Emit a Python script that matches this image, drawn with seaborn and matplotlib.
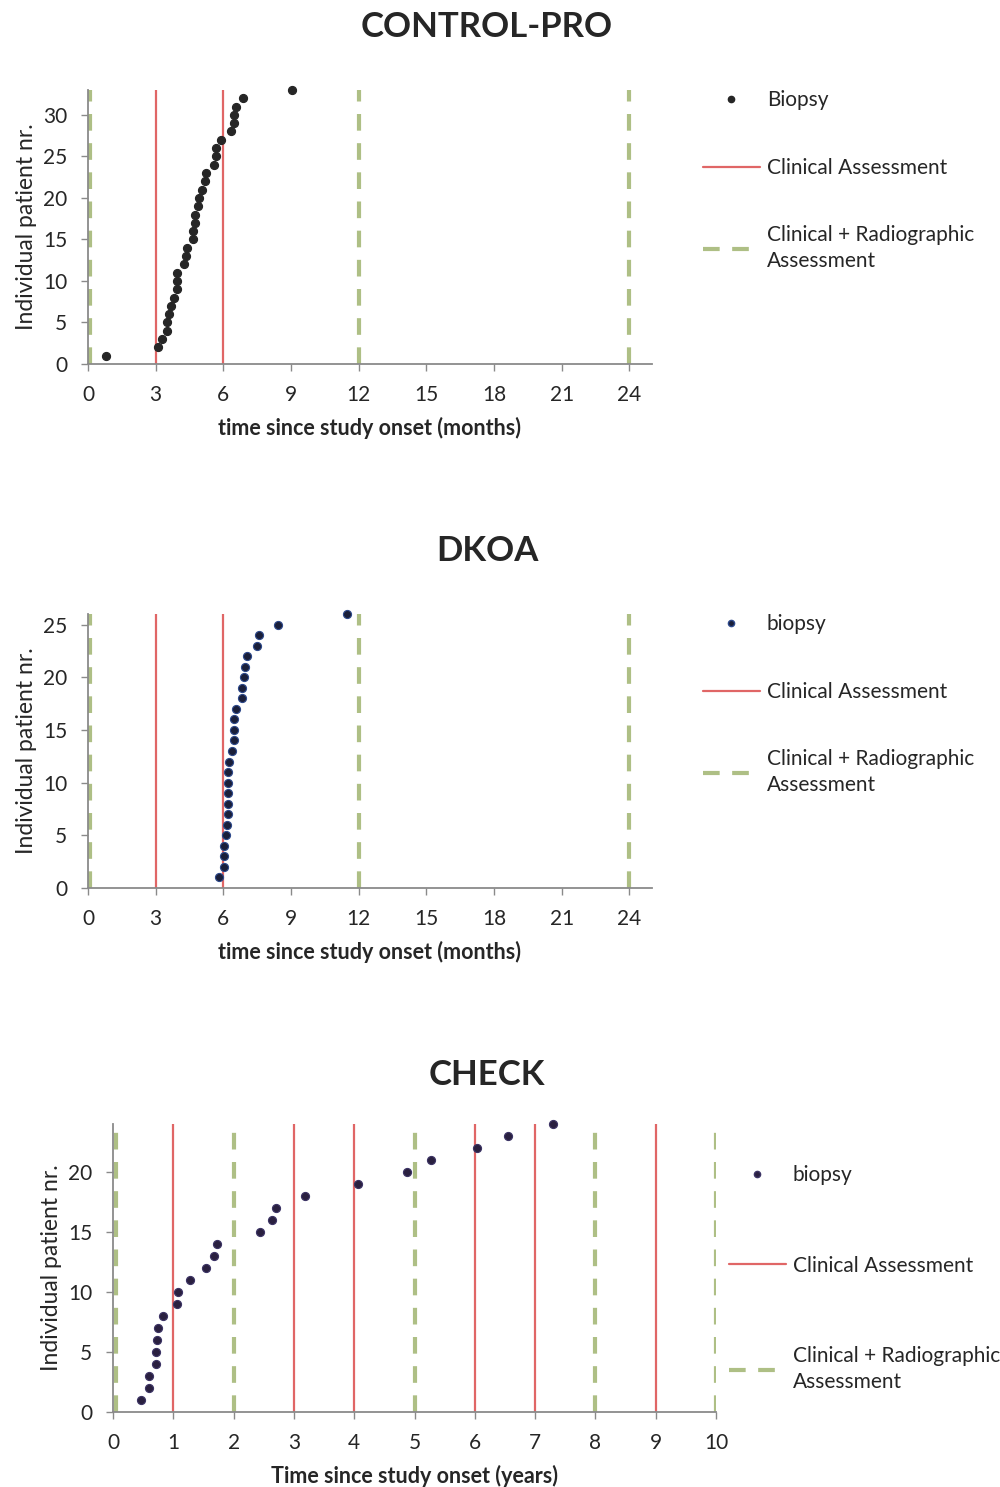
import matplotlib
matplotlib.use("Agg")
import matplotlib.pyplot as plt
import seaborn as sns
import pandas as pd
from matplotlib.lines import Line2D

# ---------------- data ----------------
cp_months = [0.78, 3.10, 3.26, 3.51, 3.51, 3.60, 3.66, 3.79, 3.95, 3.95, 3.95,
             4.25, 4.35, 4.41, 4.66, 4.66, 4.73, 4.73, 4.87, 4.94, 5.04, 5.19,
             5.24, 5.58, 5.66, 5.69, 5.91, 6.36, 6.49, 6.49, 6.55, 6.87, 9.03]
cp_patient = list(range(1, len(cp_months) + 1))

dk_months = [5.80, 6.03, 6.03, 6.04, 6.13, 6.17, 6.19, 6.19, 6.19, 6.21, 6.21,
             6.24, 6.40, 6.45, 6.45, 6.45, 6.58, 6.81, 6.81, 6.92, 6.95, 7.05,
             7.51, 7.57, 8.42, 11.47]
dk_patient = list(range(1, len(dk_months) + 1))

ch_years = [0.47, 0.59, 0.60, 0.71, 0.71, 0.73, 0.74, 0.83, 1.06, 1.08, 1.28,
            1.55, 1.67, 1.72, 2.44, 2.63, 2.71, 3.18, 4.07, 4.87, 5.28, 6.04,
            6.55, 7.29]
ch_patient = list(range(1, len(ch_years) + 1))

months_clinical = [3, 6]
months_radiographic = [0.1, 12, 24]
years_clinical = [1, 3, 4, 6, 7, 9]
years_radiographic = [0.05, 2, 5, 8, 10]

months_ticks = [0, 3, 6, 9, 12, 15, 18, 21, 24]
years_ticks = list(range(0, 11))

titles = ["CONTROL-PRO", "DKOA", "CHECK"]
biopsy_labels = ["Biopsy", "biopsy", "biopsy"]
xlabels = ["time since study onset (months)", "time since study onset (months)",
           "Time since study onset (years)"]
ylabel = "Individual patient nr."
clin_label = "Clinical Assessment"
rad_label = "Clinical + Radiographic\nAssessment"

# ---------------- style ----------------
sns.set_style("white")
plt.rcParams['font.family'] = ['Lato', 'DejaVu Sans']

RED = "#e06666"
GREEN = "#aebf85"
SPINE = "#8a8a8a"

fig = plt.figure(figsize=(10, 14.87), dpi=100)

panels = [
    dict(x=cp_months, y=cp_patient, clin=months_clinical, rad=months_radiographic,
         xlim=(0, 25), ylim=(0, 33), xt=months_ticks, yt=[0, 5, 10, 15, 20, 25, 30],
         rect=[0.088, 0.7552, 0.564, 0.1843], color="#262626", edge="#262626",
         title_y=1 - 27 / 1487, leg=(0.695, 1 - 82 / 1487), lsp=2.28),
    dict(x=dk_months, y=dk_patient, clin=months_clinical, rad=months_radiographic,
         xlim=(0, 25), ylim=(0, 26), xt=months_ticks, yt=[0, 5, 10, 15, 20, 25],
         rect=[0.088, 0.4028, 0.564, 0.1843], color="#1a1f3a", edge="#2e4a8c",
         title_y=1 - 551 / 1487, leg=(0.695, 1 - 606 / 1487), lsp=2.28),
    dict(x=ch_years, y=ch_patient, clin=years_clinical, rad=years_radiographic,
         xlim=(0, 10), ylim=(0, 24), xt=years_ticks, yt=[0, 5, 10, 15, 20],
         rect=[0.113, 0.0504, 0.603, 0.1937], color="#2a2040", edge="#3d3566",
         title_y=1 - 1075 / 1487, leg=(0.721, 1 - 1157 / 1487), lsp=3.38),
]

for i, p in enumerate(panels):
    ax = fig.add_axes(p["rect"])
    for xv in p["rad"]:
        ax.axvline(xv, color=GREEN, lw=3, dashes=(4, 3), zorder=1)
    for xv in p["clin"]:
        ax.axvline(xv, color=RED, lw=1.6, zorder=1)
    df = pd.DataFrame({"t": p["x"], "patient": p["y"]})
    sns.scatterplot(data=df, x="t", y="patient", ax=ax, s=34, color=p["color"],
                    edgecolor=p["edge"], linewidth=0.8, zorder=3, legend=False,
                    clip_on=False)
    ax.set_xlim(*p["xlim"])
    ax.set_ylim(*p["ylim"])
    ax.set_xticks(p["xt"])
    ax.set_yticks(p["yt"])
    ax.tick_params(axis="both", direction="out", length=5, width=1, color=SPINE,
                   labelsize=15, pad=10, left=True, bottom=True)
    for s in ["top", "right"]:
        ax.spines[s].set_visible(False)
    for s in ["left", "bottom"]:
        ax.spines[s].set_color(SPINE)
        ax.spines[s].set_linewidth(1.3)
    ax.set_xlabel(xlabels[i], fontsize=15.5, fontweight="bold", labelpad=9)
    ax.set_ylabel(ylabel, fontsize=16.5, labelpad=4)
    fig.text(0.487, p["title_y"], titles[i], fontsize=25, fontweight="bold",
             ha="center", va="center")
    handles = [
        Line2D([], [], marker="o", ls="none", markersize=4.5, color=p["color"],
               markeredgecolor=p["edge"]),
        Line2D([], [], color=RED, lw=1.6),
        Line2D([], [], color=GREEN, lw=3, dashes=(4, 3)),
    ]
    leg = ax.legend(handles, [biopsy_labels[i], clin_label, rad_label],
                    loc="upper left", bbox_to_anchor=p["leg"],
                    bbox_transform=fig.transFigure, frameon=False, fontsize=15,
                    labelspacing=p["lsp"], handlelength=2.7, handletextpad=0.35,
                    borderaxespad=0)
    for t in leg.get_texts():
        t.set_linespacing(1.35)

fig.savefig("out.png", dpi=100, facecolor="white")
